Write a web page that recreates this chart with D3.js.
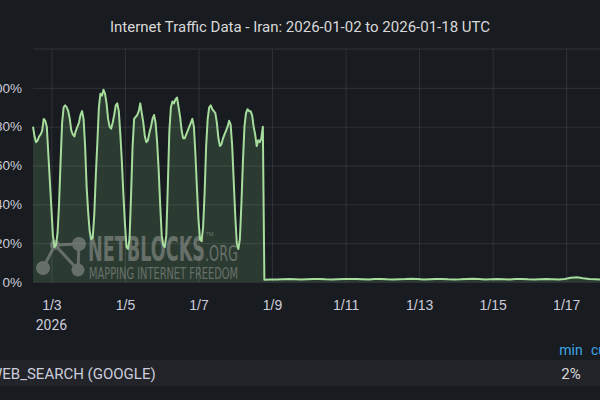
<!DOCTYPE html>
<html>
<head>
<meta charset="utf-8">
<script src="https://cdn.jsdelivr.net/npm/d3@7"></script>
<style>
  html, body { margin: 0; padding: 0; background: #181b1f; overflow: hidden; }
  svg { display: block; font-family: Roboto, "Noto Sans", sans-serif; }
</style>
</head>
<body>
<svg id="chart" width="600" height="400"></svg>
<script>
// ---------------- DATA ----------------
const chartTitle = "Internet Traffic Data - Iran: 2026-01-02 to 2026-01-18 UTC";
const seriesName = "WEB_SEARCH (GOOGLE)";
const legendHeaders = ["min", "current"];
const legendValues = ["2%"];

// hourly samples starting 2026-01-02 12:00 UTC (percent of normal)
const activeStart = "2026-01-02T12:00:00Z";
const activeStepHours = 1;
const activeValues = [
  80, 75, 72, 73, 75, 76, 78, 84, 83, 80, 66, 52, 38, 24, 18, 19, 25, 40, 62, 82, 90, 91, 90, 88,
  84, 78, 76, 75, 78, 80, 82, 86, 88, 84, 70, 49, 36, 26, 22, 23, 35, 55, 72, 90, 97, 96, 99, 97,
  92, 84, 80, 79, 82, 86, 91, 92, 88, 76, 62, 45, 30, 18, 17, 22, 45, 70, 84, 85, 86, 88, 92, 87,
  82, 75, 72, 73, 77, 80, 84, 86, 82, 72, 58, 40, 24, 19, 18, 24, 50, 78, 90, 93, 92, 94, 95, 90,
  85, 78, 74, 74, 76, 78, 80, 82, 84, 80, 66, 48, 32, 22, 21, 28, 46, 70, 84, 90, 91, 89, 88, 87,
  82, 74, 70, 71, 74, 76, 78, 80, 83, 81, 70, 52, 34, 20, 17, 22, 40, 62, 80, 87, 89, 88, 88, 86,
  80, 76, 70, 73, 72, 74, 80
];

// 4-hourly samples after the shutdown, starting 2026-01-08 19:00 UTC
const flatStart = "2026-01-08T19:00:00Z";
const flatStepHours = 4;
const flatValues = [
  1.2, 1.3, 1.3, 1.4, 1.5, 1.4, 1.3, 1.4, 1.5, 1.6, 1.4, 1.3, 1.4, 1.5, 1.6, 1.5,
  1.4, 1.3, 1.5, 1.6, 1.4, 1.3, 1.4, 1.5, 1.7, 1.5, 1.3, 1.4, 1.5, 1.6, 1.4, 1.3,
  1.4, 1.6, 1.7, 1.5, 1.3, 1.4, 1.5, 1.4, 1.3, 1.5, 1.6, 1.4, 1.3, 1.4, 1.5, 1.4,
  1.3, 1.6, 2.2, 2.4, 1.9, 1.5, 1.4, 1.3
];

const xDomain = ["2026-01-02T12:00:00Z", "2026-01-18T00:00:00Z"];
const xTickDates = ["2026-01-03", "2026-01-05", "2026-01-07", "2026-01-09", "2026-01-11", "2026-01-13", "2026-01-15", "2026-01-17"];
const xTickLabels = ["1/3", "1/5", "1/7", "1/9", "1/11", "1/13", "1/15", "1/17"];
const xYearLabel = "2026";
const yTicks = [0, 20, 40, 60, 80, 100];
const yMax = 120;

// ---------------- BUILD SERIES ----------------
const HOUR = 3600 * 1000;
const series = [];
activeValues.forEach((v, i) => series.push({ t: new Date(+new Date(activeStart) + i * activeStepHours * HOUR), v }));
flatValues.forEach((v, i) => series.push({ t: new Date(+new Date(flatStart) + i * flatStepHours * HOUR), v }));

// ---------------- LAYOUT ----------------
const svg = d3.select("#chart");
const plot = { left: 33, right: 603, top: 49, bottom: 282 };

const x = d3.scaleUtc().domain(xDomain.map(d => new Date(d))).range([plot.left, plot.right]);
const y = d3.scaleLinear().domain([0, yMax]).range([plot.bottom, plot.top]);

const textColor = "#ccccdc";
const gridColor = "rgba(204,204,220,0.13)";

// title
svg.append("text")
  .attr("x", 300).attr("y", 32)
  .attr("text-anchor", "middle")
  .attr("fill", "#d8d9da")
  .style("font-size", "15px")
  .text(chartTitle);

// top border line of plot
svg.append("line")
  .attr("x1", plot.left).attr("x2", 600)
  .attr("y1", plot.top).attr("y2", plot.top)
  .attr("stroke", gridColor);

// y axis with gridlines
const yAxis = d3.axisLeft(y)
  .tickValues(yTicks)
  .tickFormat(d => d + "%")
  .tickSize(-(600 - plot.left))
  .tickPadding(11);
const gy = svg.append("g").attr("transform", `translate(${plot.left},0)`).call(yAxis);
gy.select(".domain").remove();
gy.selectAll(".tick line").attr("stroke", gridColor);
gy.selectAll(".tick text").attr("fill", textColor).style("font-size", "13.5px");

// x axis with gridlines
const tickDates = xTickDates.map(d => new Date(d + "T00:00:00Z"));
const xAxis = d3.axisBottom(x)
  .tickValues(tickDates)
  .tickFormat((d, i) => xTickLabels[i])
  .tickSize(-(plot.bottom - plot.top))
  .tickPadding(18);
const gx = svg.append("g").attr("transform", `translate(0,${plot.bottom})`).call(xAxis);
gx.select(".domain").remove();
gx.selectAll(".tick line").attr("stroke", gridColor);
gx.selectAll(".tick text").attr("fill", textColor).style("font-size", "14px");
// year label under first tick
svg.append("text")
  .attr("x", x(tickDates[0])).attr("y", 330)
  .attr("text-anchor", "middle")
  .attr("fill", textColor)
  .style("font-size", "14px")
  .text(xYearLabel);

// area + line
const area = d3.area().x(d => x(d.t)).y0(y(0)).y1(d => y(d.v));
const line = d3.line().x(d => x(d.t)).y(d => y(d.v));

svg.append("path")
  .datum(series)
  .attr("d", area)
  .attr("fill", "#96d98d")
  .attr("fill-opacity", 0.17);

// watermark
const wm = svg.append("g").attr("opacity", 0.42).attr("fill", "#b8b8b8").attr("stroke", "#b8b8b8");
const nodes = [[55, 245, 5], [79, 244, 7], [43, 268, 7], [78, 270, 6.5]];
const links = [[0, 1], [0, 2], [0, 3], [1, 3]];
links.forEach(([a, b]) => wm.append("line")
  .attr("x1", nodes[a][0]).attr("y1", nodes[a][1])
  .attr("x2", nodes[b][0]).attr("y2", nodes[b][1])
  .attr("stroke-width", 3));
nodes.forEach(([cx, cy, r]) => wm.append("circle").attr("cx", cx).attr("cy", cy).attr("r", r).attr("stroke", "none"));
wm.append("text").attr("x", 88).attr("y", 261)
  .attr("stroke", "none")
  .style("font-family", "'DejaVu Sans Condensed', 'DejaVu Sans', sans-serif")
  .style("font-weight", "bold").style("font-size", "34px")
  .attr("textLength", 117).attr("lengthAdjust", "spacingAndGlyphs")
  .text("NETBLOCKS");
wm.append("text").attr("x", 205).attr("y", 261)
  .attr("stroke", "none")
  .style("font-family", "'DejaVu Sans Condensed', 'DejaVu Sans', sans-serif")
  .style("font-size", "21px")
  .attr("textLength", 33).attr("lengthAdjust", "spacingAndGlyphs")
  .text(".ORG");
wm.append("text").attr("x", 206).attr("y", 236)
  .attr("stroke", "none")
  .style("font-size", "5px")
  .text("TM");
wm.append("text").attr("x", 89).attr("y", 279)
  .attr("stroke", "none")
  .style("font-family", "'DejaVu Sans Condensed', 'DejaVu Sans', sans-serif")
  .style("font-size", "16px")
  .attr("textLength", 149).attr("lengthAdjust", "spacingAndGlyphs")
  .text("MAPPING INTERNET FREEDOM");

svg.append("path")
  .datum(series)
  .attr("d", line)
  .attr("fill", "none")
  .attr("stroke", "#a6dc9c")
  .attr("stroke-width", 2)
  .attr("stroke-linejoin", "round");

// legend
svg.append("text").attr("x", 571).attr("y", 355)
  .attr("text-anchor", "middle").attr("fill", "#3ea6e6")
  .style("font-size", "14px").text(legendHeaders[0]);
svg.append("text").attr("x", 591).attr("y", 355)
  .attr("text-anchor", "start").attr("fill", "#3ea6e6")
  .style("font-size", "14px").text(legendHeaders[1]);
svg.append("rect").attr("x", 0).attr("y", 360).attr("width", 600).attr("height", 26)
  .attr("fill", "#222429");
svg.append("text").attr("x", -11).attr("y", 379)
  .attr("fill", textColor).style("font-size", "15px").text(seriesName);
svg.append("text").attr("x", 571).attr("y", 379)
  .attr("text-anchor", "middle").attr("fill", "#d8d9da")
  .style("font-size", "15px").text(legendValues[0]);
</script>
</body>
</html>
